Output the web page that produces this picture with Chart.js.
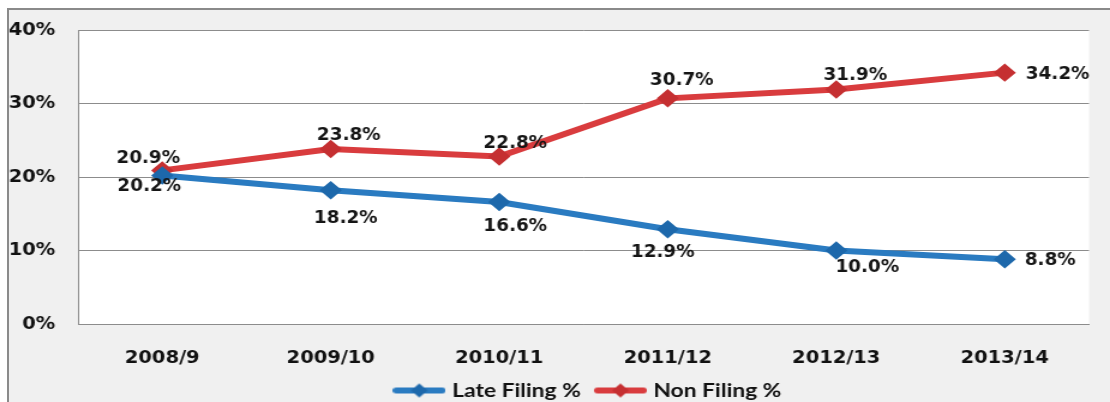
<!DOCTYPE html>
<html>
<head>
<meta charset="utf-8">
<script src="https://cdn.jsdelivr.net/npm/chart.js@4.4.0/dist/chart.umd.min.js"></script>
<style>
html, body { margin: 0; padding: 0; background: #fff; }
#frame { position: absolute; left: 7px; top: 8px; width: 1103px; height: 394px; background: #f0f0f0;
         border-top: 2px solid #8a8a8a; border-left: 2px solid #8a8a8a; box-sizing: border-box; }
/* chart is drawn narrower and stretched sideways, like the original picture */
#wrap { position: absolute; left: 0; top: 0; width: 925px; height: 402px; transform: scaleX(1.2); transform-origin: 0 0; }
</style>
</head>
<body>
<div id="frame"></div>
<div id="wrap"><canvas id="chart"></canvas></div>
<script>
const SX = 1.2;

const years = ['2008/9', '2009/10', '2010/11', '2011/12', '2012/13', '2013/14'];
const lateFiling = [20.2, 18.2, 16.6, 12.9, 10.0, 8.8];
const nonFiling = [20.9, 23.8, 22.8, 30.7, 31.9, 34.2];
const yTicks = [0, 10, 20, 30, 40];

// where each value label sits relative to its point: [dx, dy, align]
const lateLabelPos = [[-13, 11, 'center'], [15, 28, 'center'], [16, 25, 'center'], [-5, 23, 'center'], [31, 17, 'center'], [20, 1, 'left']];
const nonLabelPos = [[-14, -12, 'center'], [18, -13, 'center'], [16, -13, 'center'], [14, -18, 'center'], [19, -14, 'center'], [21, 2, 'left']];

const blue = '#2a7bc1';
const red = '#d93c3e';

function legendMarker(color, dark) {
    var c = document.createElement('canvas');
    c.width = 44; c.height = 16;
    var g = c.getContext('2d');
    g.strokeStyle = color; g.lineWidth = 6; g.lineCap = 'round';
    g.beginPath(); g.moveTo(3, 8); g.lineTo(41, 8); g.stroke();
    g.fillStyle = dark;
    g.beginPath(); g.moveTo(22, 1); g.lineTo(29, 8); g.lineTo(22, 15); g.lineTo(15, 8); g.closePath(); g.fill();
    return c;
}
const markers = [legendMarker(blue, '#1d68ab'), legendMarker(red, '#c52f31')];

const plotBg = {
    id: 'plotBg',
    beforeDraw(chart) {
        var a = chart.chartArea, ctx = chart.ctx;
        ctx.save();
        ctx.fillStyle = '#fff';
        ctx.fillRect(a.left, a.top, a.right - a.left, a.bottom - a.top);
        ctx.restore();
    },
    afterLayout(chart) {
        // centre the legend under the plot area and pull it back up
        var lg = chart.legend, a = chart.chartArea;
        var shift = (a.left + a.right) / 2 + 5 - (lg.left + lg.right) / 2;
        lg.left += shift; lg.right += shift;
        lg.top -= 6; lg.bottom -= 6;
    }
};

const pointLabels = {
    id: 'pointLabels',
    afterDatasetsDraw(chart) {
        var ctx = chart.ctx;
        chart.data.datasets.forEach((ds, i) => {
            var meta = chart.getDatasetMeta(i);
            meta.data.forEach((pt, j) => {
                var p = ds.labelPos[j];
                ctx.save();
                ctx.font = 'bold 17px "DejaVu Sans Condensed"';
                ctx.fillStyle = '#151515';
                ctx.textAlign = p[2];
                ctx.textBaseline = 'middle';
                ctx.fillText(ds.data[j].toFixed(1) + '%', pt.x + p[0] / SX, pt.y + p[1]);
                ctx.restore();
            });
        });
    }
};

var tickFont = { family: 'DejaVu Sans Condensed', size: 18, weight: 'bold' };

var config = {
    type: 'line',
    data: {
        labels: years,
        datasets: [
            { label: 'Late Filing %', data: lateFiling, labelPos: lateLabelPos, borderColor: blue, backgroundColor: blue,
              pointBackgroundColor: '#1d68ab', pointBorderColor: '#1d68ab', borderWidth: 6, pointStyle: 'rectRot', pointRadius: 5, tension: 0 },
            { label: 'Non Filing %', data: nonFiling, labelPos: nonLabelPos, borderColor: red, backgroundColor: red,
              pointBackgroundColor: '#c52f31', pointBorderColor: '#c52f31', borderWidth: 6, pointStyle: 'rectRot', pointRadius: 5, tension: 0 }
        ]
    },
    options: {
        responsive: true,
        maintainAspectRatio: false,
        animation: false,
        layout: { padding: { left: 0, top: 30, right: 17.5, bottom: -14 } },
        plugins: {
            tooltip: { enabled: false },
            legend: {
                position: 'bottom',
                labels: {
                    usePointStyle: true, pointStyleWidth: 36, padding: 15, color: '#111',
                    font: { family: 'Lato', size: 19, weight: 'bold' },
                    generateLabels(chart) {
                        var items = Chart.defaults.plugins.legend.labels.generateLabels(chart);
                        items.forEach((it, i) => { it.pointStyle = markers[i]; });
                        return items;
                    }
                }
            }
        },
        scales: {
            x: {
                offset: true,
                afterFit(s) { s.height = 48; },
                grid: { display: false, drawTicks: false, tickLength: 0 },
                border: { display: true, color: '#8c8c8c', width: 1 },
                ticks: { padding: 24, color: '#111', font: tickFont }
            },
            y: {
                min: 0, max: 40,
                afterFit(s) { s.width = 65; },
                afterBuildTicks(s) { s.ticks = yTicks.map(v => ({ value: v })); },
                grid: { color: '#8c8c8c', drawTicks: false, tickLength: 0 },
                border: { display: true, color: '#8c8c8c', width: 1 },
                ticks: { padding: 19, color: '#111', callback: v => v + '%', font: tickFont }
            }
        }
    },
    plugins: [plotBg, pointLabels]
};

new Chart(document.getElementById('chart').getContext('2d'), config);
</script>
</body>
</html>
